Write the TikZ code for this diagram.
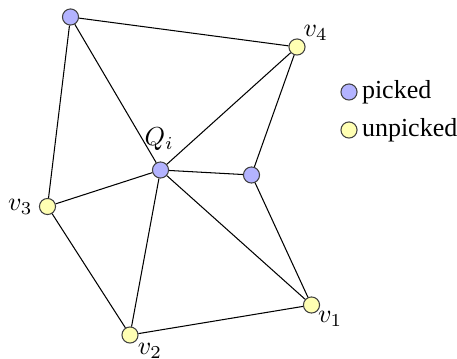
\documentclass[tikz,border=0pt]{standalone}
\usepackage{amsmath,amssymb}
\usepackage{fontspec}
\setmainfont{Liberation Serif}
\usetikzlibrary{arrows.meta,positioning}
\definecolor{pickblue}{HTML}{B3B3FF}
\definecolor{unpickyel}{HTML}{FFFFB3}

\begin{document}
\begin{tikzpicture}[x=0.3846pt,y=-0.3846pt,
    picked/.style={circle,fill=pickblue,draw=black!75,inner sep=0pt,minimum size=6.2pt},
    unpicked/.style={circle,fill=unpickyel,draw=black!75,inner sep=0pt,minimum size=6.2pt},
    lbl/.style={inner sep=0pt}]
        \useasboundingbox (0,0) rectangle (457,359);
        \foreach \p/\n in {(70.5,17)/a,(160.5,170)/q,(251.5,175)/b}
          \node[picked] (\n) at \p {};
        \foreach \p/\n in {(297,47)/v4,(47.5,206.5)/v3,(130,335)/v2,(311.5,305)/v1}
          \node[unpicked] (\n) at \p {};
        \foreach \s/\t in {a/v4,a/v3,a/q,v4/q,v4/b,q/b,q/v3,q/v2,q/v1,b/v1,v3/v2,v2/v1}
          \draw[thin] (\s) -- (\t);
        \node[lbl,above=4pt of q,xshift=-0.5pt] (ql) {$Q_i$};
        \node[lbl,above right=0pt and 0pt of v4] (v4l) {$v_4$};
        \node[lbl,left=2.3pt of v3] (v3l) {$v_3$};
        \node[lbl,below right=0.6pt and 0.5pt of v2] (v2l) {$v_2$};
        \node[lbl,below right=0pt and 0pt of v1] (v1l) {$v_1$};
        % legend
        \node[picked] (lp) at (349,92) {};
        \node[lbl,right=1.5pt of lp] (lpt) {picked};
        \node[unpicked] (lu) at (349,130) {};
        \node[lbl,right=1.5pt of lu] (lut) {unpicked};
      \end{tikzpicture}
\end{document}
